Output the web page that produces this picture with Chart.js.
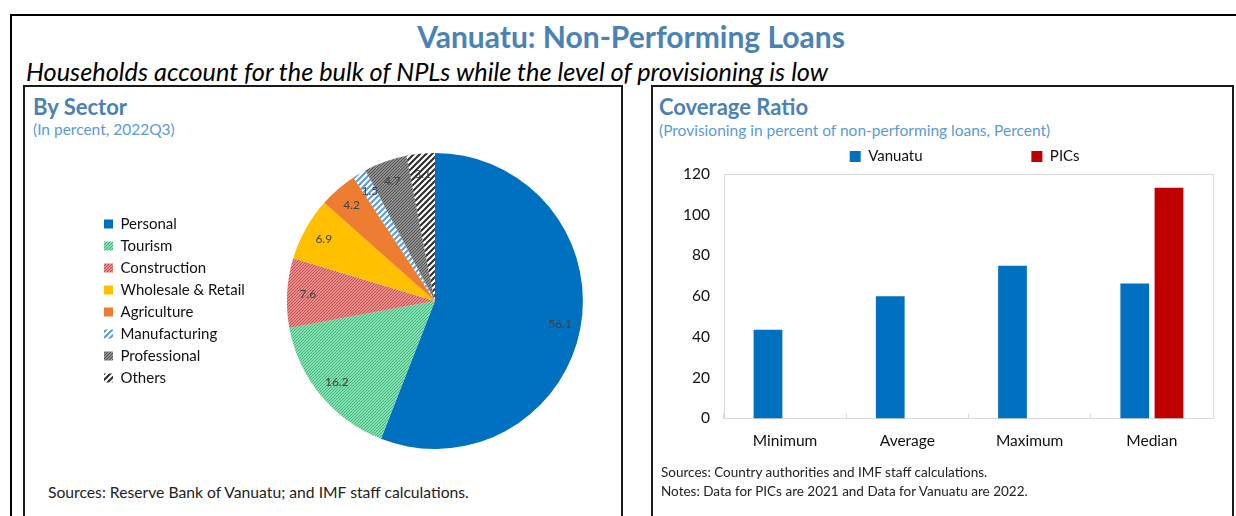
<!DOCTYPE html>
<html>
<head>
<meta charset="utf-8">
<script src="https://cdn.jsdelivr.net/npm/chart.js@4.4.0/dist/chart.umd.min.js"></script>
<style>
  body { margin: 0; width: 1236px; height: 516px; background: #fff; overflow: hidden; position: relative; font-family: Lato, sans-serif; }
  .abs { position: absolute; white-space: nowrap; }
  .box { position: absolute; border: 2px solid #1a1a1a; box-sizing: border-box; }
  .head { font-weight: bold; font-size: 22px; color: #4a82b4; line-height: 24px; }
  .sub { font-size: 15.5px; color: #5b9bd5; line-height: 18px; }
  canvas { position: absolute; }
</style>
</head>
<body>
<div class="abs" style="left:10px;top:14px;width:1240px;height:520px;border-left:2px solid #000;border-top:2px solid #000;"></div>
<div class="abs" style="left:331px;top:18px;width:600px;text-align:center;font-weight:bold;font-size:30px;line-height:36px;color:#4a82b4;">Vanuatu: Non-Performing Loans</div>
<div class="abs" style="left:26px;top:56px;font-style:italic;font-size:25.3px;line-height:30px;color:#000;">Households account for the bulk of NPLs while the level of provisioning is low</div>

<div class="box" style="left:23px;top:85px;width:600px;height:440px;"></div>
<div class="abs head" style="left:33px;top:95px;">By Sector</div>
<div class="abs sub" style="left:33px;top:120px;">(In percent, 2022Q3)</div>
<canvas id="pie" width="518" height="296" style="left:97px;top:153px;"></canvas>
<div class="abs" style="left:48px;top:482px;font-size:15.7px;line-height:20px;color:#222;">Sources: Reserve Bank of Vanuatu; and IMF staff calculations.</div>

<div class="box" style="left:651px;top:85px;width:583px;height:440px;"></div>
<div class="abs head" style="left:659px;top:95px;">Coverage Ratio</div>
<div class="abs sub" style="left:659px;top:121px;">(Provisioning in percent of non-performing loans, Percent)</div>
<canvas id="bar" width="582" height="336" style="left:651px;top:140px;"></canvas>
<div class="abs" style="left:661px;top:463px;font-size:13.5px;line-height:19px;color:#222;">Sources: Country authorities and IMF staff calculations.<br>Notes: Data for PICs are 2021 and Data for Vanuatu are 2022.</div>

<script>
// by sector, 2022Q3
const sectorNames = ['Personal', 'Tourism', 'Construction', 'Wholesale & Retail', 'Agriculture', 'Manufacturing', 'Professional', 'Others'];
const sectorValues = [56.1, 16.2, 7.6, 6.9, 4.2, 1.5, 4.7, 3.1];

// coverage ratio
const ratioCats = ['Minimum', 'Average', 'Maximum', 'Median'];
const vanuatuVals = [43.5, 60, 75, 66.2];
const picsVals = [null, null, null, 113.3];
const yTicks = [0, 20, 40, 60, 80, 100, 120];

const FONT = 'Lato';

function hatch(bg, fg, size, lw) {
  const c = document.createElement('canvas');
  c.width = c.height = size;
  const x = c.getContext('2d');
  x.fillStyle = bg;
  x.fillRect(0, 0, size, size);
  x.strokeStyle = fg;
  x.lineWidth = lw;
  x.beginPath();
  x.moveTo(-1, size + 1); x.lineTo(size + 1, -1);
  x.moveTo(-size / 2 - 1, size / 2 + 1); x.lineTo(size / 2 + 1, -size / 2 - 1);
  x.moveTo(size / 2 - 1, size * 1.5 + 1); x.lineTo(size * 1.5 + 1, size / 2 - 1);
  x.stroke();
  return x.createPattern(c, 'repeat');
}

const sectorColors = [
  '#0070c0',
  hatch('#86deb2', '#3cb878', 3, 1),
  hatch('#e88c8c', '#c0504d', 3, 1),
  '#ffc000',
  '#ed7d31',
  hatch('#ffffff', '#5b9bd5', 6, 2),
  hatch('#909090', '#505050', 3, 1),
  hatch('#ffffff', '#2a2a2a', 6, 2)
];

// value labels inside the slices
const sliceLabels = {
  id: 'sliceLabels',
  afterDatasetsDraw(chart) {
    const ctx = chart.ctx;
    ctx.save();
    ctx.font = '12px ' + FONT;
    ctx.fillStyle = '#404040';
    ctx.textAlign = 'center';
    ctx.textBaseline = 'middle';
    chart.getDatasetMeta(0).data.forEach((arc, i) => {
      const p = arc.getProps(['x', 'y', 'startAngle', 'endAngle', 'outerRadius'], true);
      const mid = (p.startAngle + p.endAngle) / 2;
      const r = p.outerRadius * 0.86;
      ctx.fillText(sectorValues[i].toFixed(1), p.x + Math.cos(mid) * r, p.y + Math.sin(mid) * r);
    });
    ctx.restore();
  }
};

new Chart(document.getElementById('pie'), {
  type: 'pie',
  data: {
    labels: sectorNames,
    datasets: [{ data: sectorValues, backgroundColor: sectorColors, borderWidth: 0, hoverOffset: 0 }]
  },
  options: {
    responsive: false,
    animation: false,
    layout: { padding: 0 },
    plugins: {
      legend: {
        position: 'left',
        labels: { boxWidth: 9, boxHeight: 9, padding: 7, color: '#111', font: { family: FONT, size: 15 } }
      },
      tooltip: { enabled: false }
    }
  },
  plugins: [sliceLabels]
});

// light grey frame round the plot area
const plotFrame = {
  id: 'plotFrame',
  beforeDatasetsDraw(chart) {
    const a = chart.chartArea;
    const ctx = chart.ctx;
    ctx.save();
    ctx.strokeStyle = '#d9d9d9';
    ctx.lineWidth = 1;
    ctx.strokeRect(Math.round(a.left) + 0.5, Math.round(a.top) + 0.5, Math.round(a.right - a.left), Math.round(a.bottom - a.top));
    ctx.restore();
  }
};

new Chart(document.getElementById('bar'), {
  type: 'bar',
  data: {
    labels: ratioCats,
    datasets: [
      { label: 'Vanuatu', data: vanuatuVals, backgroundColor: '#0070c0', categoryPercentage: 0.56, barPercentage: 0.84 },
      { label: 'PICs', data: picsVals, backgroundColor: '#c00000', categoryPercentage: 0.56, barPercentage: 0.84 }
    ]
  },
  options: {
    responsive: false,
    animation: false,
    layout: { padding: { left: 18, right: 20, top: 0, bottom: 8 } },
    scales: {
      x: {
        grid: { display: true, offset: true, drawOnChartArea: false, tickLength: -5, color: '#d9d9d9' },
        border: { color: '#d9d9d9' },
        ticks: { padding: 18, color: '#111', font: { family: FONT, size: 15.5 } }
      },
      y: {
        min: 0, max: 120,
        afterBuildTicks: axis => { axis.ticks = yTicks.map(v => ({ value: v })); },
        grid: { display: false, drawTicks: false },
        border: { display: false },
        ticks: { padding: 14, color: '#111', font: { family: FONT, size: 15.5 } }
      }
    },
    plugins: {
      legend: {
        position: 'top',
        fullSize: false,
        labels: {
          boxWidth: 11, boxHeight: 11, padding: 9, color: '#111', font: { family: FONT, size: 15 },
          generateLabels: chart => {
            const items = Chart.defaults.plugins.legend.labels.generateLabels(chart);
            // wide gap between the two legend entries, as in the original
            items[0].text = items[0].text + ' '.repeat(26);
            items[1].text = items[1].text + '  ';
            return items;
          }
        }
      },
      tooltip: { enabled: false }
    }
  },
  plugins: [plotFrame]
});
</script>
</body>
</html>
